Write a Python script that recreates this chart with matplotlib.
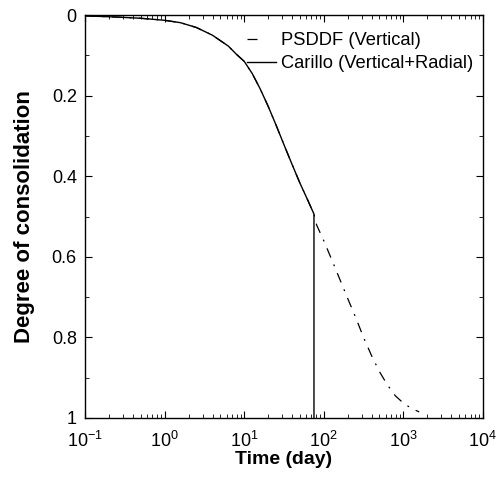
import matplotlib
matplotlib.use("Agg")
import matplotlib.pyplot as plt
from matplotlib.lines import Line2D
from matplotlib.ticker import LogLocator, MultipleLocator, NullFormatter

plt.rcParams['font.family'] = ['Liberation Sans', 'DejaVu Sans']
plt.rcParams['mathtext.fontset'] = 'custom'
plt.rcParams['mathtext.rm'] = 'Liberation Sans'

# PSDDF (Vertical) - time (day), degree of consolidation
psddf_t = [0.1, 0.251, 0.501, 1.0, 1.585, 2.512, 3.981, 6.31, 7.943, 10.0, 12.59, 15.85, 19.95, 25.12,
           31.62, 39.81, 50.12, 63.1, 75.3, 81.3, 100.0, 125.9, 158.5, 199.5, 251.2, 316.2, 398.1, 501.2,
           631.0, 794.3, 1000.0, 1259.0, 1585.0]
psddf_u = [0.002, 0.005, 0.008, 0.013, 0.019, 0.031, 0.050, 0.077, 0.097, 0.115, 0.145, 0.183, 0.226, 0.273,
           0.322, 0.370, 0.417, 0.460, 0.494, 0.521, 0.560, 0.607, 0.655, 0.703, 0.750, 0.800, 0.845, 0.885,
           0.918, 0.945, 0.963, 0.976, 0.985]

# Carillo (Vertical+Radial)
carillo_t = [0.1, 0.251, 0.501, 1.0, 1.585, 2.512, 3.981, 6.31, 7.943, 10.0, 12.59, 15.85, 19.95, 25.12,
             31.62, 39.81, 50.12, 63.1, 75.3, 75.3]
carillo_u = [0.002, 0.005, 0.008, 0.013, 0.019, 0.031, 0.050, 0.077, 0.097, 0.115, 0.145, 0.183, 0.226, 0.273,
             0.322, 0.370, 0.417, 0.460, 0.494, 1.0]

fig = plt.figure(figsize=(5.04, 4.86), dpi=100)
ax = fig.add_axes([0.169, 0.14, 0.789, 0.829])

ax.plot(psddf_t, psddf_u, color='black', lw=0.9, linestyle=(0, (8, 6, 1.5, 6)))
ax.plot(carillo_t, carillo_u, color='black', lw=1.0, linestyle='-')

ax.set_xscale('log')
ax.set_xlim(0.1, 1e4)
ax.set_ylim(1, 0)
ax.xaxis.set_major_locator(LogLocator(base=10, numticks=10))
ax.xaxis.set_minor_locator(LogLocator(base=10, subs=range(2, 10), numticks=20))
ax.xaxis.set_minor_formatter(NullFormatter())
ax.yaxis.set_minor_locator(MultipleLocator(0.1))
ax.set_yticks([0, 0.2, 0.4, 0.6, 0.8, 1.0])
ax.set_yticklabels(['0', '0.2', '0.4', '0.6', '0.8', '1'])

ax.tick_params(which='both', direction='in', top=True, right=True, labelsize=13)
ax.tick_params(axis='x', which='major', pad=9)
ax.tick_params(axis='y', which='major', pad=6)
ax.tick_params(which='major', length=5, width=0.8)
ax.tick_params(which='minor', length=3, width=0.6)
for s in ax.spines.values():
    s.set_linewidth(1.0)

ax.set_xlabel('Time (day)', fontsize=14, fontweight='bold', labelpad=0)
ax.set_ylabel('Degree of consolidation', fontsize=16, fontweight='bold', labelpad=12)

handles = [Line2D([], [], color='black', lw=0.9, linestyle=(0, (8, 40))),
           Line2D([], [], color='black', lw=1.0, linestyle='-')]
labels = ['PSDDF (Vertical)', 'Carillo (Vertical+Radial)']
ax.legend(handles, labels, loc='upper right', bbox_to_anchor=(0.977, 0.958), frameon=False, fontsize=13.2,
          handlelength=1.58, handletextpad=0.3, labelspacing=0.35, borderpad=0, borderaxespad=0)

fig.savefig('out.png', dpi=100)
